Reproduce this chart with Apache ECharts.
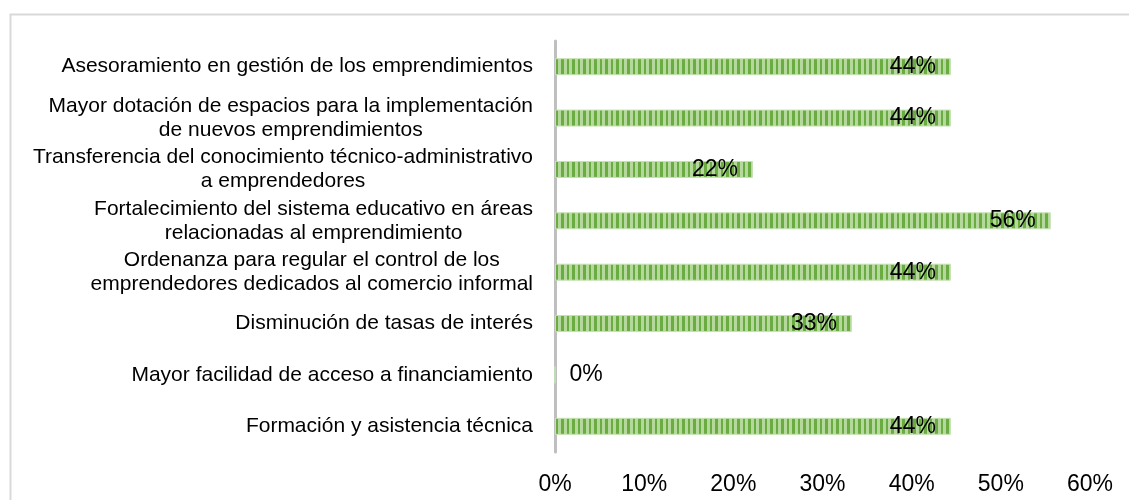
<!DOCTYPE html>
<html>
<head>
<meta charset="utf-8">
<script src="https://cdn.jsdelivr.net/npm/echarts@6/dist/echarts.min.js"></script>
<style>
  html, body { margin: 0; padding: 0; background: #fff; }
  #chart { width: 1129px; height: 500px; }
</style>
</head>
<body>
<div id="chart"></div>
<script>
// categories top to bottom
const categories = [
  "Asesoramiento en gestión de los emprendimientos",
  "Mayor dotación de espacios para la implementación\nde nuevos emprendimientos",
  "Transferencia del conocimiento técnico-administrativo\na emprendedores",
  "Fortalecimiento del sistema educativo en áreas\nrelacionadas al emprendimiento",
  "Ordenanza para regular el control de los\nemprendedores dedicados al comercio informal",
  "Disminución de tasas de interés",
  "Mayor facilidad de acceso a financiamiento",
  "Formación y asistencia técnica"
];
const values = [44.4, 44.4, 22.2, 55.6, 44.4, 33.3, 0, 44.4];
const xTicks = [0, 10, 20, 30, 40, 50, 60];

const FONT = "'Liberation Sans', Arial, sans-serif";

// striped green fill like the excel pattern
function makePattern() {
  const c = document.createElement("canvas");
  c.width = 11;
  c.height = 4;
  const ctx = c.getContext("2d");
  ctx.fillStyle = "#b5d99c";
  ctx.fillRect(0, 0, 11, 4);
  ctx.fillStyle = "#6aab42";
  ctx.fillRect(0, 0, 3, 4);
  ctx.fillRect(6, 0, 2, 4);
  return c;
}

const chart = echarts.init(document.getElementById("chart"));

const option = {
  animation: false,
  backgroundColor: "#fff",
  graphic: [
    {
      type: "rect",
      left: 8,
      top: 12,
      shape: { width: 1200, height: 600 },
      style: { fill: "none", stroke: "#d9d9d9", lineWidth: 2 },
      silent: true
    }
  ],
  grid: {
    left: 555,
    right: 39,
    top: 41,
    bottom: 48,
    containLabel: false
  },
  xAxis: {
    type: "value",
    min: xTicks[0],
    max: xTicks[xTicks.length - 1],
    interval: 10,
    axisLine: { show: false },
    axisTick: { show: false },
    splitLine: { show: false },
    axisLabel: {
      formatter: "{value}%",
      fontSize: 23,
      fontFamily: FONT,
      color: "#000",
      margin: 21
    }
  },
  yAxis: {
    type: "category",
    inverse: true,
    data: categories,
    axisLine: { show: true, lineStyle: { color: "#bfbfbf", width: 3 } },
    axisTick: { show: false },
    axisLabel: {
      margin: 22,
      align: "right",
      formatter: function (v) {
        return v.split("\n").map(function (s) { return "{c|" + s + "}"; }).join("\n");
      },
      rich: {
        c: {
          align: "center",
          fontSize: 21,
          lineHeight: 24,
          fontFamily: FONT,
          color: "#000"
        }
      }
    }
  },
  series: [
    {
      type: "bar",
      barWidth: 17,
      data: values.map(function (v) {
        const item = { value: v };
        if (v === 0) {
          item.label = { position: "right", distance: 14 };
        }
        return item;
      }),
      itemStyle: {
        color: { image: makePattern(), repeat: "repeat" },
        borderColor: "#c5e2b2",
        borderWidth: 1
      },
      label: {
        show: true,
        position: "insideRight",
        distance: 15,
        fontSize: 23,
        fontFamily: FONT,
        color: "#000",
        formatter: function (p) { return Math.round(p.value) + "%"; }
      }
    }
  ]
};

chart.setOption(option);
window.addEventListener("resize", function () {
  chart.resize();
});
</script>
</body>
</html>
